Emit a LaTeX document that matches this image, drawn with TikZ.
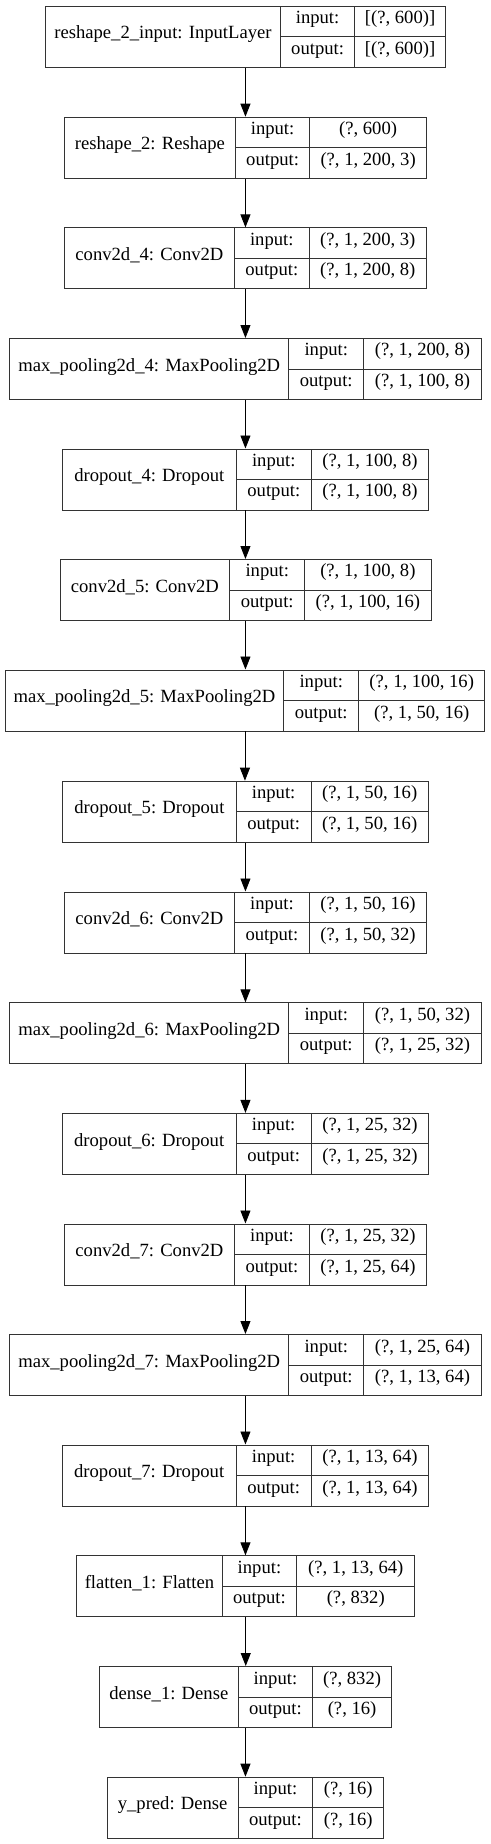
\documentclass[tikz,border=0pt]{standalone}
\usepackage{fontspec}
\setmainfont{Liberation Serif}
\usetikzlibrary{arrows.meta}

\tikzset{
  layer/.style={draw=black!80, line width=0.9bp, inner sep=0pt, anchor=north west,
    minimum height=61bp, text height=0.68em, text depth=0.22em},
  cell/.style={layer, minimum height=30.5bp},
  flow/.style={-{Triangle[length=13bp,width=10bp]}, line width=0.9bp}
}

% one keras layer: id, top, x0, x1, x2, x3, name, input, output
\newcommand{\kerasbox}[9]{%
  \node[layer, minimum width={(#6-#3)*1bp}] (#1) at (#3,#2) {};
  \node[layer, minimum width={(#4-#3)*1bp}] (#1-name) at (#3,#2) {#7};
  \node[cell, minimum width={(#5-#4)*1bp}] (#1-inl) at (#4,#2) {input:};
  \node[cell, minimum width={(#5-#4)*1bp}] (#1-outl) at (#4,{#2+30.5}) {output:};
  \node[cell, minimum width={(#6-#5)*1bp}] (#1-inv) at (#5,#2) {#8};
  \node[cell, minimum width={(#6-#5)*1bp}] (#1-outv) at (#5,{#2+30.5}) {#9};
}

\begin{document}
\begin{tikzpicture}[x={(1bp,0)}, y={(0,-1bp)}, font=\fontsize{18.7}{22}\selectfont]
  \useasboundingbox (0,0) rectangle (491,1844);

  \kerasbox{inp}{5.7}{45}{280}{354.3}{445}{reshape\_2\_input: InputLayer}{[(?, 600)]}{[(?, 600)]}
  \kerasbox{reshape}{116.7}{64}{235}{309.3}{426}{reshape\_2: Reshape}{(?, 600)}{(?, 1, 200, 3)}
  \kerasbox{conv4}{227.4}{64}{234}{308.7}{426}{conv2d\_4: Conv2D}{(?, 1, 200, 3)}{(?, 1, 200, 8)}
  \kerasbox{pool4}{338}{9.3}{288.3}{363.3}{480.7}{max\_pooling2d\_4: MaxPooling2D}{(?, 1, 200, 8)}{(?, 1, 100, 8)}
  \kerasbox{drop4}{448.5}{61.7}{236}{310.7}{428.3}{dropout\_4: Dropout}{(?, 1, 100, 8)}{(?, 1, 100, 8)}
  \kerasbox{conv5}{559}{59.5}{229.3}{304.3}{430.5}{conv2d\_5: Conv2D}{(?, 1, 100, 8)}{(?, 1, 100, 16)}
  \kerasbox{pool5}{669.5}{4.7}{283.3}{358.3}{484.3}{max\_pooling2d\_5: MaxPooling2D}{(?, 1, 100, 16)}{(?, 1, 50, 16)}
  \kerasbox{drop5}{780.7}{62.3}{235.7}{310.7}{427.7}{dropout\_5: Dropout}{(?, 1, 50, 16)}{(?, 1, 50, 16)}
  \kerasbox{conv6}{891.5}{64}{234}{309}{426}{conv2d\_6: Conv2D}{(?, 1, 50, 16)}{(?, 1, 50, 32)}
  \kerasbox{pool6}{1002.3}{9.3}{288.3}{363.3}{480.7}{max\_pooling2d\_6: MaxPooling2D}{(?, 1, 50, 32)}{(?, 1, 25, 32)}
  \kerasbox{drop6}{1112.9}{61.7}{235.7}{310.7}{428.3}{dropout\_6: Dropout}{(?, 1, 25, 32)}{(?, 1, 25, 32)}
  \kerasbox{conv7}{1223.5}{64}{234}{309}{426}{conv2d\_7: Conv2D}{(?, 1, 25, 32)}{(?, 1, 25, 64)}
  \kerasbox{pool7}{1334}{9.3}{288.3}{363.3}{480.7}{max\_pooling2d\_7: MaxPooling2D}{(?, 1, 25, 64)}{(?, 1, 13, 64)}
  \kerasbox{drop7}{1444.5}{61.7}{235.7}{310.7}{428.3}{dropout\_7: Dropout}{(?, 1, 13, 64)}{(?, 1, 13, 64)}
  \kerasbox{flat}{1555.3}{76.3}{221.7}{296.3}{414.3}{flatten\_1: Flatten}{(?, 1, 13, 64)}{(?, 832)}
  \kerasbox{dense}{1666}{99}{237.7}{312.3}{391}{dense\_1: Dense}{(?, 832)}{(?, 16)}
  \kerasbox{ypred}{1776.7}{106.7}{237.7}{312.3}{383.3}{y\_pred: Dense}{(?, 16)}{(?, 16)}

  \foreach \a/\b in {inp/reshape, reshape/conv4, conv4/pool4, pool4/drop4, drop4/conv5,
      conv5/pool5, pool5/drop5, drop5/conv6, conv6/pool6, pool6/drop6, drop6/conv7,
      conv7/pool7, pool7/drop7, drop7/flat, flat/dense, dense/ypred}
    \draw[flow] (\a.south) -- (\a.south |- \b.north);
\end{tikzpicture}
\end{document}
